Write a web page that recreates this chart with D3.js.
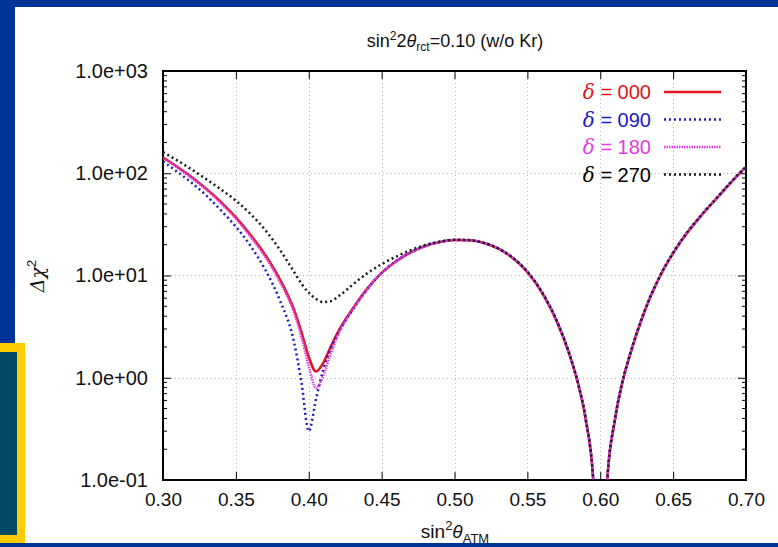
<!DOCTYPE html>
<html>
<head>
<meta charset="utf-8">
<script src="https://cdn.jsdelivr.net/npm/d3@7"></script>
<style>
body{margin:0;padding:0;background:#003399;}
svg{display:block;font-family:"Liberation Sans",Arial,sans-serif;}
</style>
</head>
<body>
<script>
//x grid shared by all curves (sin^2 theta_ATM)
var xGrid=[0.30,0.31,0.32,0.33,0.34,0.35,0.36,0.37,0.38,0.39,0.395,0.40,0.405,0.41,0.415,0.42,
	0.43,0.44,0.45,0.46,0.47,0.48,0.49,0.50,0.51,0.52,0.53,0.54,0.55,0.56,0.57,0.58,
	0.585,0.59,0.595,0.60,0.605,0.61,0.615,0.62,0.63,0.64,0.65,0.66,0.67,0.68,0.69,0.70];

//delta chi^2 for each delta value
var chi000=[143,115,91,70,52,37,25,16,9.3,4.6,2.8,1.6,1.15,1.4,2.0,2.8,
	4.7,7.4,10.6,13.8,16.8,19.4,21.2,22.2,22.1,20.8,18.3,14.8,10.8,6.8,3.6,1.5,
	0.85,0.39,0.11,0.004,0.11,0.38,0.88,1.6,4.3,9.2,16.5,26.5,39.5,57,82,115];
var chi090=[130,103,80,60,43,30,19.5,11.5,5.8,2.2,0.9,0.3,0.62,1.2,1.9,2.7,
	4.6,7.3,10.6,13.9,16.9,19.5,21.3,22.3,22.2,20.9,18.4,14.9,10.9,6.9,3.65,1.52,
	0.86,0.40,0.11,0.004,0.11,0.39,0.89,1.62,4.35,9.3,16.7,26.8,40,57.5,83,116];
var chi180=[141,113,89,68.5,50.5,36,24,15.3,8.8,4.3,2.5,1.3,0.79,1.05,1.7,2.6,
	4.6,7.3,10.6,13.8,16.8,19.4,21.2,22.2,22.1,20.8,18.3,14.8,10.8,6.8,3.6,1.5,
	0.85,0.39,0.11,0.004,0.11,0.38,0.88,1.6,4.3,9.2,16.5,26.5,39.5,57,82,115];
var chi270=[161,133,108,87,69,54,40,28,18,10.8,8.3,6.8,5.9,5.5,5.6,6.2,
	8.1,10.5,12.9,15.3,17.7,19.9,21.5,22.4,22.2,20.9,18.4,14.9,10.9,6.9,3.65,1.52,
	0.86,0.40,0.11,0.004,0.11,0.39,0.89,1.62,4.35,9.3,16.7,26.8,40,57.5,83,116];

var seriesNames=["000","090","180","270"];
var xTicks=[0.30,0.35,0.40,0.45,0.50,0.55,0.60,0.65,0.70];
var yTicks=[0.1,1,10,100,1000];

window.onload=setChart();

function setChart(){
	var width=778,
		height=547;
	var margin={left:163,right:32,top:71,bottom:67};

	var svg=d3.select("body")
		.append("svg")
		.attr("width",width)
		.attr("height",height);

	//slide background: blue frame, white panel, yellow/teal box
	svg.append("rect").attr("width",width).attr("height",height).attr("fill","#003399");
	svg.append("rect").attr("x",15).attr("y",7).attr("width",width-15).attr("height",536).attr("fill","#ffffff");
	svg.append("rect").attr("x",0).attr("y",343).attr("width",25).attr("height",200).attr("fill","#ffcc00");
	svg.append("rect").attr("x",0).attr("y",352).attr("width",17).attr("height",183).attr("fill","#004a66");

	var x=d3.scaleLinear()
		.domain([0.30,0.70])
		.range([margin.left,width-margin.right]);
	var y=d3.scaleLog()
		.domain([0.1,1000])
		.range([height-margin.bottom,margin.top]);

	//dotted grid
	var grid=svg.append("g").attr("stroke","#b8b8b8").attr("stroke-width",1).attr("stroke-dasharray","1,3");
	grid.selectAll(".gx").data(xTicks.slice(1,-1)).enter().append("line")
		.attr("x1",function(d){return Math.round(x(d))+0.5;})
		.attr("x2",function(d){return Math.round(x(d))+0.5;})
		.attr("y1",y(1000)).attr("y2",y(0.1));
	grid.selectAll(".gy").data(yTicks.slice(1,-1)).enter().append("line")
		.attr("y1",function(d){return Math.round(y(d))+0.5;})
		.attr("y2",function(d){return Math.round(y(d))+0.5;})
		.attr("x1",x(0.30)).attr("x2",x(0.70));

	//minor y ticks
	var minors=[];
	yTicks.slice(0,-1).forEach(function(d){
		for(var k=2;k<10;k++) minors.push(d*k);
	});

	var fmt=function(d){
		var e=Math.round(Math.log10(d));
		return "1.0e"+(e<0?"-":"+")+String(Math.abs(e)).padStart(2,"0");
	};

	var yAxis=svg.append("g")
		.attr("transform","translate("+margin.left+",0)")
		.call(d3.axisLeft(y).tickValues(yTicks).tickFormat(fmt).tickSize(-8).tickPadding(15));
	var yAxisR=svg.append("g")
		.attr("transform","translate("+(width-margin.right)+",0)")
		.call(d3.axisRight(y).tickValues(yTicks).tickFormat("").tickSize(-8));
	var xAxis=svg.append("g")
		.attr("transform","translate(0,"+(height-margin.bottom)+")")
		.call(d3.axisBottom(x).tickValues(xTicks).tickFormat(d3.format(".2f")).tickSize(-8).tickPadding(13));
	var xAxisT=svg.append("g")
		.attr("transform","translate(0,"+margin.top+")")
		.call(d3.axisTop(x).tickValues(xTicks).tickFormat("").tickSize(-8));

	svg.selectAll(".minL").data(minors).enter().append("line")
		.attr("x1",margin.left).attr("x2",margin.left+4)
		.attr("y1",function(d){return y(d);}).attr("y2",function(d){return y(d);})
		.attr("stroke","#000");
	svg.selectAll(".minR").data(minors).enter().append("line")
		.attr("x1",width-margin.right).attr("x2",width-margin.right-4)
		.attr("y1",function(d){return y(d);}).attr("y2",function(d){return y(d);})
		.attr("stroke","#000");

	[yAxis,yAxisR,xAxis,xAxisT].forEach(function(a){
		a.select(".domain").remove();
		a.selectAll("text").attr("fill","#111").attr("font-family","Liberation Sans, Arial, sans-serif");
	});
	yAxis.selectAll("text").attr("font-size",20);
	xAxis.selectAll("text").attr("font-size",19);

	//frame
	svg.append("rect")
		.attr("x",margin.left).attr("y",margin.top)
		.attr("width",width-margin.right-margin.left)
		.attr("height",height-margin.bottom-margin.top)
		.attr("fill","none").attr("stroke","#000").attr("stroke-width",2);

	//clip for curves
	svg.append("clipPath").attr("id","plotClip")
		.append("rect")
		.attr("x",margin.left).attr("y",margin.top)
		.attr("width",width-margin.right-margin.left)
		.attr("height",height-margin.bottom-margin.top);

	var styles={
		"000":{data:chi000,color:"#e0141e",dash:null},
		"090":{data:chi090,color:"#1c1cc0",dash:"2,3"},
		"180":{data:chi180,color:"#e23ce2",dash:"1.5,1"},
		"270":{data:chi270,color:"#1a1a1a",dash:"2,3"}
	};

	var line=d3.line()
		.x(function(d){return x(d[0]);})
		.y(function(d){return y(d[1]);})
		.curve(d3.curveMonotoneX);

	var curves=svg.append("g").attr("clip-path","url(#plotClip)");
	seriesNames.forEach(function(n){
		var s=styles[n];
		curves.append("path")
			.datum(xGrid.map(function(v,i){return [v,s.data[i]];}))
			.attr("d",line)
			.attr("fill","none")
			.attr("stroke",s.color)
			.attr("stroke-width",2.5)
			.attr("stroke-dasharray",s.dash);
	});

	//legend
	var legend=svg.append("g");
	seriesNames.forEach(function(n,i){
		var s=styles[n];
		var ly=99+i*27.5;
		var t=legend.append("text")
			.attr("x",651).attr("y",ly)
			.attr("text-anchor","end")
			.attr("font-size",20)
			.attr("fill",s.color==="#1a1a1a"?"#000":s.color);
		t.append("tspan").attr("font-family","DejaVu Serif, serif").attr("font-style","italic").text("δ");
		t.append("tspan").text(" = "+n);
		legend.append("line")
			.attr("x1",664).attr("x2",721)
			.attr("y1",ly-7).attr("y2",ly-7)
			.attr("stroke",s.color)
			.attr("stroke-width",2.5)
			.attr("stroke-dasharray",s.dash);
	});

	//title
	var title=svg.append("text")
		.attr("x",455).attr("y",47)
		.attr("text-anchor","middle")
		.attr("font-size",18)
		.attr("fill","#111");
	title.append("tspan").text("sin");
	title.append("tspan").attr("font-size",12).attr("dy",-7).text("2");
	title.append("tspan").attr("dy",7).text("2");
	title.append("tspan").attr("font-style","italic").text("θ");
	title.append("tspan").attr("font-size",12).attr("dy",4).text("rct");
	title.append("tspan").attr("dy",-4).text("=0.10 (w/o Kr)");

	//x axis label
	var xl=svg.append("text")
		.attr("x",455).attr("y",538)
		.attr("text-anchor","middle")
		.attr("font-size",19)
		.attr("fill","#111");
	xl.append("tspan").text("sin");
	xl.append("tspan").attr("font-size",13).attr("dy",-8).text("2");
	xl.append("tspan").attr("dy",8).attr("font-style","italic").text("θ");
	xl.append("tspan").attr("font-size",13).attr("dy",5).text("ATM");

	//y axis label
	var yl=svg.append("text")
		.attr("transform","translate(44,276) rotate(-90)")
		.attr("text-anchor","middle")
		.attr("font-size",19)
		.attr("fill","#111");
	yl.append("tspan").attr("font-style","italic").attr("font-family","DejaVu Serif, serif").text("Δχ");
	yl.append("tspan").attr("font-size",13).attr("dy",-8).text("2");

	//blue bottom band drawn last so it covers the axis label like the slide
	svg.append("rect").attr("x",0).attr("y",543).attr("width",width).attr("height",4).attr("fill","#003399");
};
</script>
</body>
</html>
